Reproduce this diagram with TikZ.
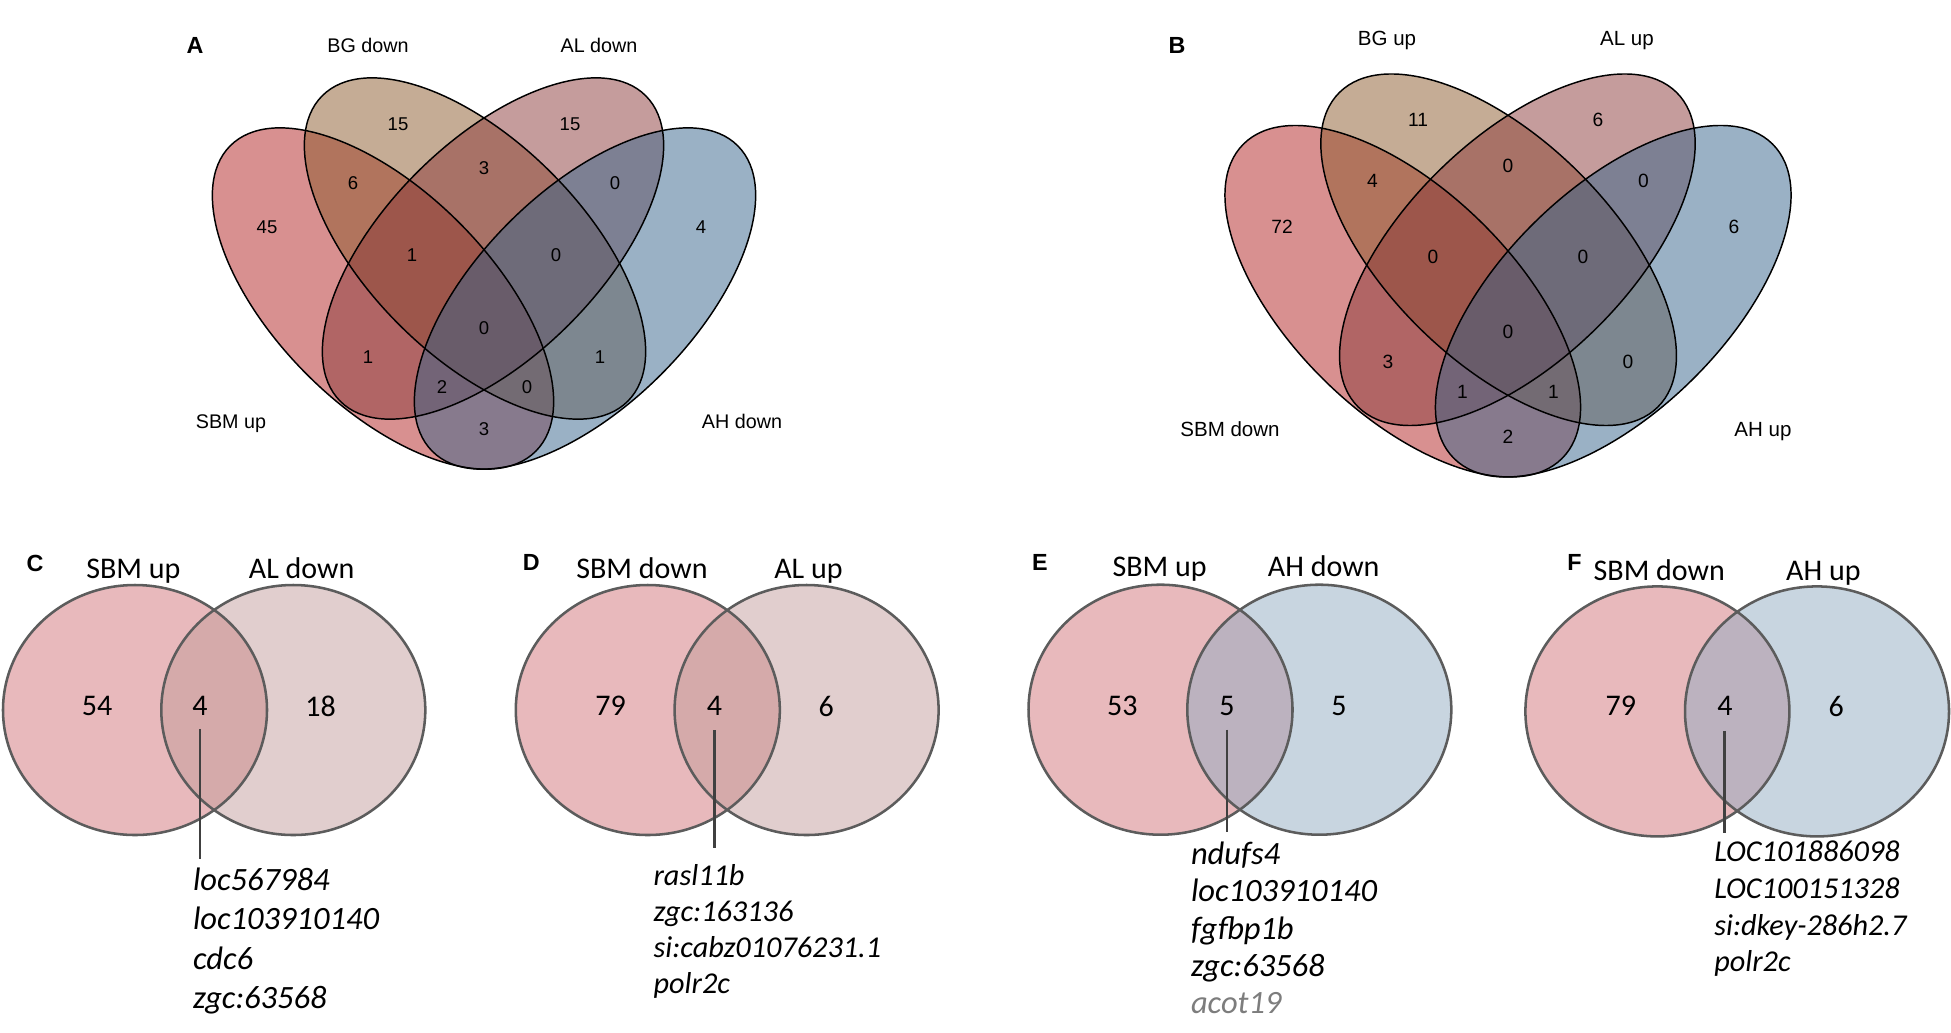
\documentclass[tikz,border=0pt]{standalone}
\usepackage{fontspec}
\setmainfont{Carlito}
\newfontfamily\vennfont{Liberation Sans}
\tikzset{every picture/.style={line width=0.75pt}}

\definecolor{vred}{RGB}{178,34,34}
\definecolor{vtan}{RGB}{139,90,43}
\definecolor{vrose}{RGB}{139,58,58}
\definecolor{vblue}{RGB}{54,100,139}
\definecolor{pinkfill}{RGB}{232,185,188}
\definecolor{rosefill}{RGB}{225,206,206}
\definecolor{pinkrose}{RGB}{213,170,170}
\definecolor{bluefill}{RGB}{200,213,224}
\definecolor{pinkblue}{RGB}{188,178,191}
\definecolor{rimgray}{RGB}{92,92,92}
\definecolor{leadgray}{RGB}{64,64,64}
\definecolor{fadegray}{RGB}{125,125,125}

\begin{document}
\begin{tikzpicture}[x=0.75pt,y=0.75pt,yscale=-1,xscale=1,
  setfill/.style={fill opacity=0.5, draw=none},
  setrim/.style={draw=black, line width=1.1pt},
  qnum/.style={inner sep=0pt, font=\vennfont\fontsize{13.9}{16}\selectfont},
  qnumb/.style={inner sep=0pt, font=\vennfont\fontsize{14.4}{17}\selectfont},
  qcat/.style={inner sep=0pt, anchor=base, font=\vennfont\fontsize{14.8}{17}\selectfont},
  qcatb/.style={inner sep=0pt, anchor=base, font=\vennfont\fontsize{15.4}{18}\selectfont},
  panel/.style={inner sep=0pt, anchor=base, font=\vennfont\bfseries\fontsize{17.5}{20}\selectfont},
  pnum/.style={inner sep=0pt, font=\fontsize{22.5}{27}\selectfont},
  pcat/.style={inner sep=0pt, anchor=base, font=\fontsize{22.5}{27}\selectfont},
  gene/.style={inner sep=0pt, anchor=base west, font=\itshape\fontsize{24.4}{29}\selectfont},
  genes/.style={inner sep=0pt, anchor=base west, font=\itshape\fontsize{22.7}{27}\selectfont},
  rim/.style={draw=rimgray, line width=1.9pt},
  leader/.style={draw=leadgray, line width=2.2pt}]
\useasboundingbox (0,0) rectangle (1951,1032);

%Shape: Ellipse fills, panel A
\fill [setfill, fill=vred, rotate around={45:(383,298.5)}] (383,298.5) ellipse [x radius=216, y radius=107.5];
\fill [setfill, fill=vtan, rotate around={45:(475,248.5)}] (475,248.5) ellipse [x radius=216, y radius=107.5];
\fill [setfill, fill=vrose, rotate around={-45:(493,248.5)}] (493,248.5) ellipse [x radius=216, y radius=107.5];
\fill [setfill, fill=vblue, rotate around={-45:(585,298.5)}] (585,298.5) ellipse [x radius=216, y radius=107.5];
%Shape: Ellipse outlines, panel A
\draw [setrim, rotate around={45:(383,298.5)}] (383,298.5) ellipse [x radius=216, y radius=107.5];
\draw [setrim, rotate around={45:(475,248.5)}] (475,248.5) ellipse [x radius=216, y radius=107.5];
\draw [setrim, rotate around={-45:(493,248.5)}] (493,248.5) ellipse [x radius=216, y radius=107.5];
\draw [setrim, rotate around={-45:(585,298.5)}] (585,298.5) ellipse [x radius=216, y radius=107.5];

%Shape: Ellipses, panel B (panel A shapes, moved and scaled)
\begin{scope}[shift={(1508,255.5)}, xscale=1.042, yscale=1.03, shift={(-484,-254.1)}]
\fill [setfill, fill=vred, rotate around={45:(383,298.5)}] (383,298.5) ellipse [x radius=216, y radius=107.5];
\fill [setfill, fill=vtan, rotate around={45:(475,248.5)}] (475,248.5) ellipse [x radius=216, y radius=107.5];
\fill [setfill, fill=vrose, rotate around={-45:(493,248.5)}] (493,248.5) ellipse [x radius=216, y radius=107.5];
\fill [setfill, fill=vblue, rotate around={-45:(585,298.5)}] (585,298.5) ellipse [x radius=216, y radius=107.5];
\draw [setrim, rotate around={45:(383,298.5)}] (383,298.5) ellipse [x radius=216, y radius=107.5];
\draw [setrim, rotate around={45:(475,248.5)}] (475,248.5) ellipse [x radius=216, y radius=107.5];
\draw [setrim, rotate around={-45:(493,248.5)}] (493,248.5) ellipse [x radius=216, y radius=107.5];
\draw [setrim, rotate around={-45:(585,298.5)}] (585,298.5) ellipse [x radius=216, y radius=107.5];
\end{scope}

% Text Node, panel A
\draw (195,53.3) node [panel] (aA) {A};
\draw (368,52.3) node [qcat] (aBG) {BG down};
\draw (599,52.3) node [qcat] (aAL) {AL down};
\draw (231,428.5) node [qcat] (aSBM) {SBM up};
\draw (742,428.5) node [qcat] (aAH) {AH down};
\draw (398,124) node [qnum] (a1) {15};
\draw (570,124) node [qnum] (a2) {15};
\draw (484,168) node [qnum] (a3) {3};
\draw (353,183) node [qnum] (a4) {6};
\draw (615,183) node [qnum] (a5) {0};
\draw (267,227) node [qnum] (a6) {45};
\draw (701,227) node [qnum] (a7) {4};
\draw (412,255) node [qnum] (a8) {1};
\draw (556,255) node [qnum] (a9) {0};
\draw (484,328) node [qnum] (a10) {0};
\draw (368,357) node [qnum] (a11) {1};
\draw (600,357) node [qnum] (a12) {1};
\draw (442,387) node [qnum] (a13) {2};
\draw (527,387) node [qnum] (a14) {0};
\draw (484,429) node [qnum] (a15) {3};

% Text Node, panel B
\draw (1177,53) node [panel] (bB) {B};
\draw (1387,45) node [qcatb] (bBG) {BG up};
\draw (1627,45) node [qcatb] (bAL) {AL up};
\draw (1230,436.7) node [qcatb] (bSBM) {SBM down};
\draw (1763,436.7) node [qcatb] (bAH) {AH up};
\draw (1418,120) node [qnumb] (b1) {11};
\draw (1598,120) node [qnumb] (b2) {6};
\draw (1508,165.7) node [qnumb] (b3) {0};
\draw (1372.5,181) node [qnumb] (b4) {4};
\draw (1643.5,181) node [qnumb] (b5) {0};
\draw (1282,226.7) node [qnumb] (b6) {72};
\draw (1734,226.7) node [qnumb] (b7) {6};
\draw (1433,256.7) node [qnumb] (b8) {0};
\draw (1583,256.7) node [qnumb] (b9) {0};
\draw (1508,331.7) node [qnumb] (b10) {0};
\draw (1388,362.3) node [qnumb] (b11) {3};
\draw (1628,362.3) node [qnumb] (b12) {0};
\draw (1462.5,391.7) node [qnumb] (b13) {1};
\draw (1553.5,391.7) node [qnumb] (b14) {1};
\draw (1508,436.7) node [qnumb] (b15) {2};

%Shape: Ellipses, panel C
\fill [pinkfill] (135,710) ellipse [x radius=132, y radius=125];
\fill [rosefill] (293.3,710) ellipse [x radius=132, y radius=125];
\begin{scope}
\clip (135,710) ellipse [x radius=132, y radius=125];
\fill [pinkrose] (293.3,710) ellipse [x radius=132, y radius=125];
\end{scope}
\draw [rim] (135,710) ellipse [x radius=132, y radius=125];
\draw [rim] (293.3,710) ellipse [x radius=132, y radius=125];

%Shape: Ellipses, panel D
\fill [pinkfill] (647.8,710) ellipse [x radius=132, y radius=125];
\fill [rosefill] (806.6,710) ellipse [x radius=132, y radius=125];
\begin{scope}
\clip (647.8,710) ellipse [x radius=132, y radius=125];
\fill [pinkrose] (806.6,710) ellipse [x radius=132, y radius=125];
\end{scope}
\draw [rim] (647.8,710) ellipse [x radius=132, y radius=125];
\draw [rim] (806.6,710) ellipse [x radius=132, y radius=125];

%Shape: Ellipses, panel E
\fill [pinkfill] (1160.5,709.7) ellipse [x radius=132, y radius=125];
\fill [bluefill] (1319.3,709.7) ellipse [x radius=132, y radius=125];
\begin{scope}
\clip (1160.5,709.7) ellipse [x radius=132, y radius=125];
\fill [pinkblue] (1319.3,709.7) ellipse [x radius=132, y radius=125];
\end{scope}
\draw [rim] (1160.5,709.7) ellipse [x radius=132, y radius=125];
\draw [rim] (1319.3,709.7) ellipse [x radius=132, y radius=125];

%Shape: Ellipses, panel F
\fill [pinkfill] (1657.4,711.4) ellipse [x radius=132, y radius=125];
\fill [bluefill] (1817,711.4) ellipse [x radius=132, y radius=125];
\begin{scope}
\clip (1657.4,711.4) ellipse [x radius=132, y radius=125];
\fill [pinkblue] (1817,711.4) ellipse [x radius=132, y radius=125];
\end{scope}
\draw [rim] (1657.4,711.4) ellipse [x radius=132, y radius=125];
\draw [rim] (1817,711.4) ellipse [x radius=132, y radius=125];

% Text Node, panel C
\draw (35,571.7) node [panel] (cC) {C};
\draw (133.3,578.3) node [pcat] (cSBM) {SBM up};
\draw (301.7,578.3) node [pcat] (cAL) {AL down};
\draw (97,706) node [pnum] (cL) {54};
\draw (200,706) node [pnum] (cM) {4};
\draw (320.6,706) node [pnum] (cR) {18};
\draw (192.5,890) node [gene] (cg1) {loc567984};
\draw (192.5,929.5) node [gene] (cg2) {loc103910140};
\draw (192.5,969) node [gene] (cg3) {cdc6};
\draw (192.5,1008.5) node [gene] (cg4) {zgc:63568};
\draw [leader, shorten <=9.6pt, shorten >=5.8pt] (cM.south) -- (cM.south |- cg1.north);

% Text Node, panel D
\draw (531.3,570) node [panel] (dD) {D};
\draw (642,578.3) node [pcat] (dSBM) {SBM down};
\draw (808.5,578.3) node [pcat] (dAL) {AL up};
\draw (610.6,706) node [pnum] (dL) {79};
\draw (714.4,706) node [pnum] (dM) {4};
\draw (826.3,706) node [pnum] (dR) {6};
\draw (653.1,885) node [genes] (dg1) {rasl11b};
\draw (653.1,921) node [genes] (dg2) {zgc:163136};
\draw (653.1,957) node [genes] (dg3) {si:cabz01076231.1};
\draw (653.1,993) node [genes] (dg4) {polr2c};
\draw [leader, shorten <=10.5pt, shorten >=12pt] (dM.south) -- (dM.south |- dg1.north);

% Text Node, panel E
\draw (1040,570.7) node [panel] (eE) {E};
\draw (1159.6,576.7) node [pcat] (eSBM) {SBM up};
\draw (1323.7,576.7) node [pcat] (eAH) {AH down};
\draw (1122.4,706) node [pnum] (eL) {53};
\draw (1227,706) node [pnum] (eM) {5};
\draw (1339,706) node [pnum] (eR) {5};
\draw (1190.5,864.4) node [gene] (eg1) {ndufs4};
\draw (1190.5,901.7) node [gene] (eg2) {loc103910140};
\draw (1190.5,939) node [gene] (eg3) {fgfbp1b};
\draw (1190.5,976.3) node [gene] (eg4) {zgc:63568};
\draw (1190.5,1013.6) node [gene, text=fadegray] (eg5) {acot19};
\draw [leader, shorten <=10pt, shorten >=6.8pt] (eM.south) -- (eM.south |- eg1.north);

% Text Node, panel F
\draw (1574.4,570.7) node [panel] (fF) {F};
\draw (1659.3,580) node [pcat] (fSBM) {SBM down};
\draw (1823.4,580) node [pcat] (fAH) {AH up};
\draw (1620.9,706) node [pnum] (fL) {79};
\draw (1724.9,706) node [pnum] (fM) {4};
\draw (1836.3,706) node [pnum] (fR) {6};
\draw (1713.8,861.7) node [genes] (fg1) {LOC101886098};
\draw (1713.8,898.3) node [genes] (fg2) {LOC100151328};
\draw (1713.8,935) node [genes] (fg3) {si:dkey-286h2.7};
\draw (1713.8,971.7) node [genes] (fg4) {polr2c};
\draw [leader, shorten <=11pt, shorten >=6pt] (fM.south) -- (fM.south |- fg1.north);

\end{tikzpicture}
\end{document}
